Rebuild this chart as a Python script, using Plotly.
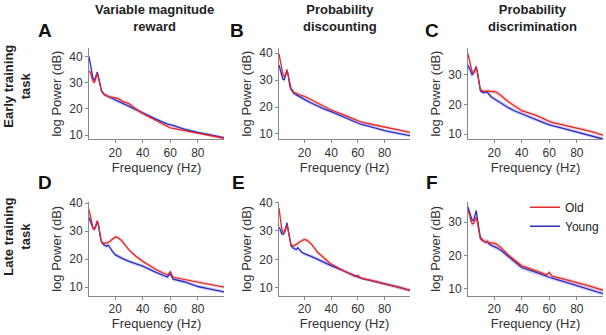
import plotly.graph_objects as go

freq = [1, 2, 3, 4, 5, 6, 7, 8, 9, 10, 12, 14, 15, 16, 18, 20, 22, 25, 30, 35, 40, 50, 58, 60, 62, 70, 80, 90, 99]

a_young = [40, 37, 34, 31.5, 31, 32.5, 34, 32, 29, 27, 25.5, 25, 24.8, 24.5, 23.8, 23.3, 22.8, 22, 21, 19.5, 18.3, 16, 14.2, 14, 13.7, 12.3, 11, 10, 9]
a_old = [34.5, 34, 32, 30.5, 30.2, 31.5, 33.5, 31.5, 28.5, 27, 25.5, 25, 24.8, 24.6, 24.4, 24.3, 24, 23, 22, 20, 18.3, 15.5, 13.2, 12.8, 12.6, 11.8, 10.9, 9.9, 8.8]
b_young = [35.6, 33.5, 31.5, 30.3, 30.2, 31.8, 33.8, 31.5, 28, 26.5, 25.2, 24.5, 24.2, 23.8, 23.2, 22.8, 22.3, 21.5, 20.3, 19.2, 18.3, 16.2, 14.3, 13.9, 13.6, 12.6, 11.2, 10.2, 9.4]
b_old = [39.8, 37, 34, 32, 31.4, 32, 33.8, 31.5, 28.5, 27, 25.5, 25, 24.7, 24.4, 24.2, 24, 23.5, 22.6, 21.2, 20, 18.9, 17, 15.2, 14.8, 14.5, 13.6, 12.6, 11.6, 10.6]
c_young = [33.2, 32, 30.5, 30, 30.5, 31.5, 32.7, 30, 27, 24.6, 24, 24, 24.2, 23.5, 22.5, 21.9, 21.3, 20.4, 19, 17.8, 16.8, 15, 13.5, 13.2, 12.9, 12, 10.8, 9.6, 8.4]
c_old = [37, 35, 32.5, 31, 30.5, 31.3, 32.5, 30.5, 27.5, 25, 24.4, 24.5, 24.6, 24.5, 24.3, 24.4, 24, 23, 21, 19.3, 17.9, 16.4, 14.6, 14.3, 14, 13.2, 12.2, 11, 9.7]
d_young = [34.8, 33.5, 32, 31, 30.8, 31.8, 33.5, 32, 28.5, 26.2, 25, 24.6, 25, 24.2, 22.8, 21.6, 21, 20.3, 19.2, 18.3, 17.5, 15.2, 13.6, 14.8, 12.8, 11.9, 10.2, 9.2, 8.3]
d_old = [37.7, 35, 32.5, 31, 30.8, 32, 33.7, 32, 28.5, 26.2, 25.6, 25.8, 26, 26.3, 27, 27.9, 27.7, 26.5, 23.3, 21, 19.2, 16.2, 14.3, 15.5, 13.5, 12.7, 11.7, 10.8, 10]
e_young = [31.1, 30.5, 29, 28.8, 29.5, 31, 32.8, 30, 26.5, 24.7, 23.8, 23.5, 24.1, 23.5, 22.5, 22, 21.7, 21, 20, 18.8, 17.8, 15.8, 14, 13.8, 13.4, 12.6, 11.4, 10.3, 9.1]
e_old = [38, 34, 31, 29.5, 29.3, 30.5, 32, 30, 27, 25, 24.7, 25.2, 25.6, 26, 26.6, 27, 26.7, 25.5, 22.4, 20.2, 18.3, 15.8, 14, 14.3, 13.4, 12.6, 11.4, 10.3, 9.1]
f_young = [34.4, 33, 31.5, 30.5, 30.5, 31.8, 33.4, 30.5, 27, 25.3, 24.4, 24, 24.2, 23.6, 23, 22.7, 22.3, 21.5, 19.8, 18, 16.4, 15, 13.8, 13.5, 13.2, 12.3, 11.1, 9.8, 8.6]
f_old = [33.4, 32.5, 30.5, 29.5, 29.5, 30.5, 31.4, 29.5, 26.5, 25, 24.4, 24, 24.2, 23.8, 23.7, 23.7, 23.3, 22.3, 20.2, 18.5, 16.9, 15.5, 14.2, 14.9, 13.8, 13, 12, 10.8, 9.6]

sem = [1.2, 1.1, 1.0, 0.9, 0.9, 0.9, 0.9, 0.8, 0.8, 0.8, 0.7, 0.7, 0.7, 0.7, 0.7, 0.7, 0.7, 0.7, 0.7, 0.7, 0.7, 0.6, 0.6, 0.6, 0.6, 0.6, 0.6, 0.6, 0.6]

panel_letters = ["A", "B", "C", "D", "E", "F"]
col_titles = ["Variable magnitude<br>reward", "Probability<br>discounting", "Probability<br>discrimination"]
row_titles = ["Early training<br>task", "Late training<br>task"]
y_ranges = [[8.4, 43.3], [8, 42], [8.3, 39], [6.8, 40.6], [7.1, 40.3], [7.9, 36.1]]
y_ticks = [[10, 20, 30, 40], [10, 20, 30, 40], [10, 20, 30], [10, 20, 30, 40], [10, 20, 30, 40], [10, 20, 30]]
x_ticks = [20, 40, 60, 80]

panels = [(a_old, a_young), (b_old, b_young), (c_old, c_young),
          (d_old, d_young), (e_old, e_young), (f_old, f_young)]

W, H = 606, 335
x_dom_px = [(89, 224), (279, 410), (468, 603)]
y_dom_px = [(43, 137), (201, 298)]

RED = "#e02a2e"
BLUE = "#2c2cc8"
RED_BAND = "rgba(240,120,120,0.33)"
BLUE_BAND = "rgba(120,120,240,0.33)"
FONT = "Liberation Sans, Arial, sans-serif"

fig = go.Figure()

for i, (old, young) in enumerate(panels):
    ax = "" if i == 0 else str(i + 1)
    xr, yr = "x" + ax, "y" + ax
    for vals, band_c in [(young, BLUE_BAND), (old, RED_BAND)]:
        upper = [v + s for v, s in zip(vals, sem)]
        lower = [v - s for v, s in zip(vals, sem)]
        fig.add_trace(go.Scatter(x=freq + freq[::-1], y=upper + lower[::-1], fill="toself",
                                 fillcolor=band_c, line=dict(width=0), hoverinfo="skip",
                                 showlegend=False, xaxis=xr, yaxis=yr))
    for vals, line_c, name in [(young, BLUE, "Young"), (old, RED, "Old")]:
        fig.add_trace(go.Scatter(x=freq, y=vals, mode="lines", line=dict(color=line_c, width=1.3),
                                 name=name, showlegend=False, xaxis=xr, yaxis=yr))

# legend entries (shown in panel F)
fig.add_trace(go.Scatter(x=[None], y=[None], mode="lines", line=dict(color=RED, width=1.5),
                         name="Old", xaxis="x6", yaxis="y6"))
fig.add_trace(go.Scatter(x=[None], y=[None], mode="lines", line=dict(color=BLUE, width=1.5),
                         name="Young", xaxis="x6", yaxis="y6"))

layout = dict(width=W, height=H, margin=dict(l=0, r=0, t=0, b=0),
              paper_bgcolor="white", plot_bgcolor="white",
              font=dict(family=FONT, size=12, color="#333"))

axis_common = dict(showline=True, linecolor="#888", linewidth=1, ticks="outside", ticklen=3,
                   tickcolor="#888", showgrid=False, zeroline=False,
                   tickfont=dict(size=12, color="#333"))

for i in range(6):
    r, c = divmod(i, 3)
    ax = "" if i == 0 else str(i + 1)
    xd = [x_dom_px[c][0] / W, x_dom_px[c][1] / W]
    yd = [1 - y_dom_px[r][1] / H, 1 - y_dom_px[r][0] / H]
    layout["xaxis" + ax] = dict(axis_common, domain=xd, range=[1, 99], tickvals=x_ticks,
                                anchor="y" + ax, ticklabelstandoff=-1,
                                title=dict(text="Frequency (Hz)", font=dict(size=13, color="#333"), standoff=1))
    layout["yaxis" + ax] = dict(axis_common, domain=yd, range=y_ranges[i], tickvals=y_ticks[i],
                                anchor="x" + ax,
                                title=dict(text="log Power (dB)", font=dict(size=13, color="#333"), standoff=4))

layout["legend"] = dict(x=525 / W, y=1 - 192 / H, xanchor="left", yanchor="top",
                        bgcolor="rgba(0,0,0,0)", font=dict(size=12, color="#222"),
                        tracegroupgap=0, itemwidth=30)

fig.update_layout(**layout)

annotations = []
col_centers = [154, 340, 532]
for c, t in enumerate(col_titles):
    annotations.append(dict(text="<b>" + t + "</b>", x=col_centers[c] / W, y=1 + 6 / H, xref="paper", yref="paper",
                            xanchor="center", yanchor="top", showarrow=False,
                            font=dict(size=13, color="#222", family=FONT)))
letter_pos = [(45, 25), (237, 25), (432, 25), (45, 181), (238, 181), (432, 181)]
for L, (lx, ly) in zip(panel_letters, letter_pos):
    annotations.append(dict(text="<b>" + L + "</b>", x=lx / W, y=1 - ly / H, xref="paper", yref="paper",
                            xanchor="center", yanchor="middle", showarrow=False,
                            font=dict(size=19, color="#111", family=FONT)))
row_centers = [83, 237]
for r, t in enumerate(row_titles):
    annotations.append(dict(text="<b>" + t + "</b>", x=17 / W, y=1 - row_centers[r] / H, xref="paper", yref="paper",
                            xanchor="center", yanchor="middle", showarrow=False, textangle=-90,
                            font=dict(size=13, color="#222", family=FONT)))
fig.update_layout(annotations=annotations)

fig.write_html("out.html", config={"displayModeBar": False},
               post_script="document.body.style.margin='0';document.body.style.overflow='hidden';")
